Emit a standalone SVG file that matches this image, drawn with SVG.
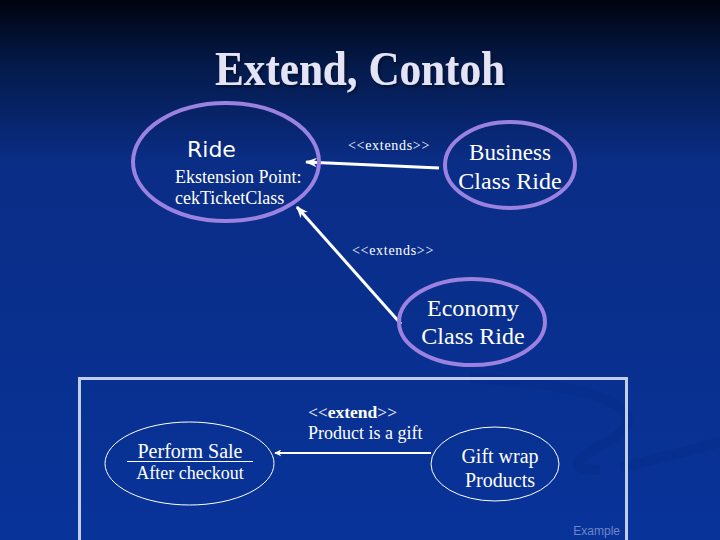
<svg xmlns="http://www.w3.org/2000/svg" width="720" height="540" viewBox="0 0 720 540">
<defs>
<linearGradient id="bg" x1="0" y1="0" x2="0" y2="1">
<stop offset="0" stop-color="#00030f"/>
<stop offset="0.12" stop-color="#041a4a"/>
<stop offset="0.3" stop-color="#0a2d86"/>
<stop offset="1" stop-color="#083399"/>
</linearGradient>
<filter id="sh" x="-10%" y="-20%" width="120%" height="150%">
<feDropShadow dx="2" dy="2" stdDeviation="1" flood-color="#050a25" flood-opacity="0.8"/>
</filter>
<marker id="ah" viewBox="0 0 10 10" refX="9" refY="5" markerWidth="7" markerHeight="7" orient="auto" markerUnits="userSpaceOnUse">
<path d="M0,0 L10,5 L0,10 L3,5 Z" fill="#ffffff"/>
</marker>
<marker id="ah2" viewBox="0 0 10 10" refX="9" refY="5" markerWidth="12" markerHeight="12" orient="auto" markerUnits="userSpaceOnUse">
<path d="M0,1 L10,5 L0,9 L3,5 Z" fill="#ffffff"/>
</marker>
<style>
.uc{fill:none;stroke:#9b82e0;stroke-width:4}
.uc2{fill:none;stroke:#ffffff;stroke-width:1}
.t{font-family:"Liberation Serif",serif;fill:#ffffff}
.lbl{font-family:"Liberation Serif",serif;fill:#ffffff;font-size:14px;letter-spacing:0.7px}
.con{stroke:#ffffff;stroke-width:3;fill:none}
</style>
</defs>
<rect width="720" height="540" fill="url(#bg)"/>
<path d="M470,378 C600,385 660,410 610,440 C580,458 560,470 600,470" fill="none" stroke="#062a85" stroke-width="10" opacity="0.35"/>
<path d="M620,468 C660,458 700,448 720,442" fill="none" stroke="#062a85" stroke-width="10" opacity="0.35"/>
<text transform="translate(360,85) scale(0.88,1)" x="0" y="0" text-anchor="middle" font-family="Liberation Serif,serif" font-weight="bold" font-size="49" fill="#e4e4f6" filter="url(#sh)">Extend, Contoh</text>

<g id="connectors">
<line class="con" x1="439" y1="168" x2="306" y2="162" marker-end="url(#ah2)"/>
<text class="lbl" x="348" y="150">&lt;&lt;extends&gt;&gt;</text>
<line class="con" x1="401" y1="324" x2="297" y2="207" marker-end="url(#ah2)"/>
<text class="lbl" x="352" y="255">&lt;&lt;extends&gt;&gt;</text>
</g>

<g id="ride">
<ellipse class="uc" cx="226" cy="162" rx="93" ry="59"/>
<text x="187" y="157" font-family="DejaVu Sans,sans-serif" font-size="22" fill="#ffffff">Ride</text>
<text class="t" x="175" y="183" font-size="18">Ekstension Point:</text>
<text class="t" x="175" y="204" font-size="18">cekTicketClass</text>
</g>

<g id="business">
<ellipse class="uc" cx="510" cy="165" rx="65" ry="43"/>
<text class="t" x="510" y="160" font-size="23" text-anchor="middle">Business</text>
<text class="t" x="510" y="189" font-size="24" text-anchor="middle">Class Ride</text>
</g>

<g id="economy">
<ellipse class="uc" cx="472" cy="322" rx="73" ry="43"/>
<text class="t" x="473" y="316" font-size="24" text-anchor="middle">Economy</text>
<text class="t" x="473" y="344" font-size="24" text-anchor="middle">Class Ride</text>
</g>

<rect x="79.500" y="378.500" width="547" height="165" fill="none" stroke="#c2cdea" stroke-width="3"/>

<g id="extend-connector">
<line x1="431" y1="453" x2="275" y2="453" stroke="#ffffff" stroke-width="2" marker-end="url(#ah)"/>
<text class="t" x="308" y="418" font-size="17.500">&lt;&lt;<tspan font-weight="bold">extend</tspan>&gt;&gt;</text>
<text class="t" x="308" y="439" font-size="18">Product is a gift</text>
</g>

<g id="perform-sale">
<ellipse class="uc2" cx="189.500" cy="463.500" rx="84.500" ry="41.500"/>
<text class="t" x="190" y="458" font-size="20" text-anchor="middle">Perform Sale</text>
<line x1="127" y1="461.500" x2="253" y2="461.500" stroke="#ffffff" stroke-width="1"/>
<text class="t" x="190" y="479" font-size="18" text-anchor="middle">After checkout</text>
</g>

<g id="gift-wrap">
<ellipse class="uc2" cx="495" cy="464" rx="64" ry="37"/>
<text class="t" x="500" y="463" font-size="20" text-anchor="middle">Gift wrap</text>
<text class="t" x="500" y="487" font-size="20" text-anchor="middle">Products</text>
</g>

<text x="620" y="535" text-anchor="end" font-family="Liberation Sans,sans-serif" font-size="12" fill="#6f86c8">Example</text>
</svg>
